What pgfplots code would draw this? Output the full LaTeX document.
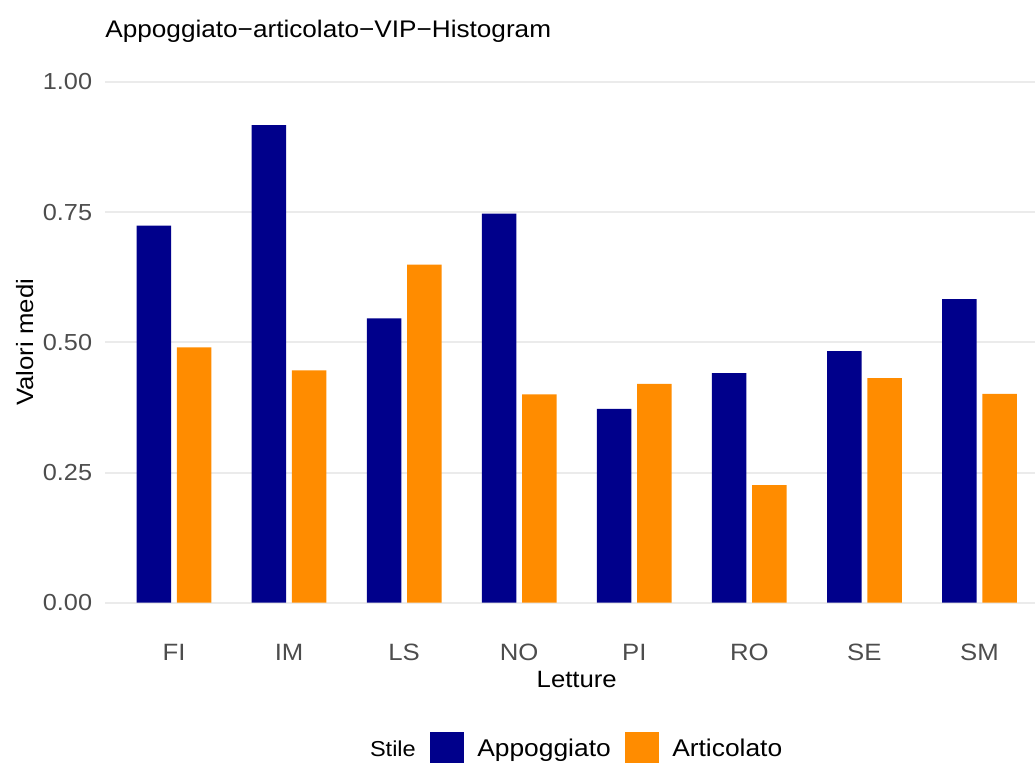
\documentclass[border=0pt]{standalone}
\usepackage{fontspec}
\setmainfont[FakeStretch=1.09]{Liberation Sans}
\usepackage{pgfplots}
\usepackage{pgfplotstable}
\pgfplotsset{compat=1.18}
\definecolor{apbl}{RGB}{0,0,139}
\definecolor{arto}{RGB}{255,140,0}
\definecolor{tickgray}{RGB}{77,77,77}
\definecolor{gridgray}{RGB}{235,235,235}

\pgfplotstableread{
x a b
0 0.724 0.490
1 0.917 0.446
2 0.546 0.649
3 0.747 0.400
4 0.372 0.420
5 0.441 0.226
6 0.483 0.431
7 0.583 0.401
}\datatable

\pgfplotsset{sqlegend/.style={legend image code/.code={\fill[##1] (0pt,-3.47pt) rectangle (17pt,12.13pt);}}}

\begin{document}
\begin{tikzpicture}
\begin{axis}[
  at={(0,0)}, anchor=south west,
  scale only axis, width=471.75pt, height=286.5pt,
  xmin=-0.6, xmax=7.6, ymin=-0.05, ymax=1.05,
  axis line style={draw=none},
  major tick style={draw=none}, minor tick style={draw=none},
  xtick={0,...,7}, xticklabels={FI,IM,LS,NO,PI,RO,SE,SM},
  ytick={0,0.25,0.5,0.75,1},
  yticklabels={0.00,0.25,0.50,0.75,1.00},
  ymajorgrids, major grid style={gridgray, line width=1pt},
  ybar, bar width=17.26pt,
  xticklabel style={font=\fontsize{11.8}{13}\selectfont, text=tickgray, anchor=base, inner sep=0pt, yshift=-11.5pt},
  yticklabel style={font=\fontsize{11.6}{13}\selectfont, text=tickgray, anchor=east, inner sep=0pt, xshift=-6.25pt},
  title={Appoggiato−articolato−VIP−Histogram},
  every axis title/.style={at={(axis description cs:0,1.0323)}, anchor=base west, inner sep=0pt, font=\fontsize{12}{14}\selectfont},
  xlabel={Letture},
  every axis x label/.style={at={(axis description cs:0.5,-0.1033)}, anchor=base, inner sep=0pt, font=\fontsize{11.8}{14}\selectfont},
  ylabel={Valori medi},
  every axis y label/.style={at={(axis description cs:-0.0763,0.5)}, rotate=90, anchor=base, inner sep=0pt, font=\fontsize{11.8}{14}\selectfont},
  legend columns=-1,
  legend style={draw=none, fill=none, inner sep=0pt, outer sep=0pt,
    at={(axis description cs:0.2671,-0.208)}, anchor=west,
    font=\fontsize{12.1}{14}\selectfont,
    nodes={inner sep=0pt, anchor=base},
    /tikz/every odd column/.append style={column sep=6.5pt},
    /tikz/every even column/.append style={column sep=7.25pt}},
]
\addlegendimage{empty legend}
\addlegendentry{{\fontsize{10.8}{13}\selectfont Stile}}
\addplot[fill=apbl, draw=none, bar shift=-10.07pt, sqlegend] table[x=x, y=a] {\datatable};
\addlegendentry{Appoggiato}
\addplot[fill=arto, draw=none, bar shift=10.07pt, sqlegend] table[x=x, y=b] {\datatable};
\addlegendentry{Articolato}
\end{axis}
\pgfresetboundingbox
\path[use as bounding box] (-52.5pt,-67.1pt) rectangle (465pt,314.4pt);
\end{tikzpicture}
\end{document}
